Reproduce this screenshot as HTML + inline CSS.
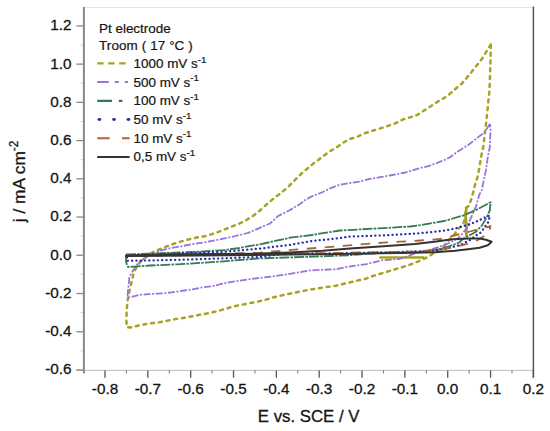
<!DOCTYPE html>
<html><head><meta charset="utf-8"><style>
html,body{margin:0;padding:0;background:#fff;}
svg{display:block;}
text{font-family:"Liberation Sans", sans-serif;fill:#151515;stroke:#151515;stroke-width:0.3px;}
.t15{font-size:15.3px;}
.t16{font-size:16.8px;}
.t12{font-size:12.4px;stroke-width:0.2px;}
</style></head><body>
<svg width="550" height="431" viewBox="0 0 550 431">
<line x1="84" y1="7.5" x2="533.4" y2="7.5" stroke="#e4e4e4" stroke-width="1"/>
<line x1="76" y1="370.4" x2="533.4" y2="370.4" stroke="#bdbdbd" stroke-width="1"/>
<line x1="533.4" y1="6.4" x2="533.4" y2="377.6" stroke="#555" stroke-width="1.5"/>
<line x1="83.9" y1="7" x2="83.9" y2="373.6" stroke="#888" stroke-width="2"/>
<line x1="76.4" y1="25.90" x2="83" y2="25.90" stroke="#888" stroke-width="1.3"/>
<text x="71.6" y="30.30" text-anchor="end" class="t15">1.2</text>
<line x1="76.4" y1="64.13" x2="83" y2="64.13" stroke="#888" stroke-width="1.3"/>
<text x="71.6" y="68.53" text-anchor="end" class="t15">1.0</text>
<line x1="76.4" y1="102.36" x2="83" y2="102.36" stroke="#888" stroke-width="1.3"/>
<text x="71.6" y="106.76" text-anchor="end" class="t15">0.8</text>
<line x1="76.4" y1="140.59" x2="83" y2="140.59" stroke="#888" stroke-width="1.3"/>
<text x="71.6" y="144.99" text-anchor="end" class="t15">0.6</text>
<line x1="76.4" y1="178.82" x2="83" y2="178.82" stroke="#888" stroke-width="1.3"/>
<text x="71.6" y="183.22" text-anchor="end" class="t15">0.4</text>
<line x1="76.4" y1="217.05" x2="83" y2="217.05" stroke="#888" stroke-width="1.3"/>
<text x="71.6" y="221.45" text-anchor="end" class="t15">0.2</text>
<line x1="76.4" y1="255.28" x2="83" y2="255.28" stroke="#888" stroke-width="1.3"/>
<text x="71.6" y="259.68" text-anchor="end" class="t15">0.0</text>
<line x1="76.4" y1="293.51" x2="83" y2="293.51" stroke="#888" stroke-width="1.3"/>
<text x="71.6" y="297.91" text-anchor="end" class="t15">-0.2</text>
<line x1="76.4" y1="331.74" x2="83" y2="331.74" stroke="#888" stroke-width="1.3"/>
<text x="71.6" y="336.14" text-anchor="end" class="t15">-0.4</text>
<line x1="76.4" y1="369.97" x2="83" y2="369.97" stroke="#888" stroke-width="1.3"/>
<text x="71.6" y="374.37" text-anchor="end" class="t15">-0.6</text>
<line x1="80.5" y1="45.01" x2="83" y2="45.01" stroke="#cfcfcf" stroke-width="1"/>
<line x1="80.5" y1="83.24" x2="83" y2="83.24" stroke="#cfcfcf" stroke-width="1"/>
<line x1="80.5" y1="121.47" x2="83" y2="121.47" stroke="#cfcfcf" stroke-width="1"/>
<line x1="80.5" y1="159.71" x2="83" y2="159.71" stroke="#cfcfcf" stroke-width="1"/>
<line x1="80.5" y1="197.94" x2="83" y2="197.94" stroke="#cfcfcf" stroke-width="1"/>
<line x1="80.5" y1="236.16" x2="83" y2="236.16" stroke="#cfcfcf" stroke-width="1"/>
<line x1="80.5" y1="274.39" x2="83" y2="274.39" stroke="#cfcfcf" stroke-width="1"/>
<line x1="80.5" y1="312.62" x2="83" y2="312.62" stroke="#cfcfcf" stroke-width="1"/>
<line x1="80.5" y1="350.85" x2="83" y2="350.85" stroke="#cfcfcf" stroke-width="1"/>
<line x1="105.00" y1="370.4" x2="105.00" y2="377.7" stroke="#555" stroke-width="1.3"/>
<text x="105.00" y="394" text-anchor="middle" class="t15">-0.8</text>
<line x1="147.84" y1="370.4" x2="147.84" y2="377.7" stroke="#555" stroke-width="1.3"/>
<text x="147.84" y="394" text-anchor="middle" class="t15">-0.7</text>
<line x1="190.68" y1="370.4" x2="190.68" y2="377.7" stroke="#555" stroke-width="1.3"/>
<text x="190.68" y="394" text-anchor="middle" class="t15">-0.6</text>
<line x1="233.52" y1="370.4" x2="233.52" y2="377.7" stroke="#555" stroke-width="1.3"/>
<text x="233.52" y="394" text-anchor="middle" class="t15">-0.5</text>
<line x1="276.36" y1="370.4" x2="276.36" y2="377.7" stroke="#555" stroke-width="1.3"/>
<text x="276.36" y="394" text-anchor="middle" class="t15">-0.4</text>
<line x1="319.20" y1="370.4" x2="319.20" y2="377.7" stroke="#555" stroke-width="1.3"/>
<text x="319.20" y="394" text-anchor="middle" class="t15">-0.3</text>
<line x1="362.04" y1="370.4" x2="362.04" y2="377.7" stroke="#555" stroke-width="1.3"/>
<text x="362.04" y="394" text-anchor="middle" class="t15">-0.2</text>
<line x1="404.88" y1="370.4" x2="404.88" y2="377.7" stroke="#555" stroke-width="1.3"/>
<text x="404.88" y="394" text-anchor="middle" class="t15">-0.1</text>
<line x1="447.72" y1="370.4" x2="447.72" y2="377.7" stroke="#555" stroke-width="1.3"/>
<text x="447.72" y="394" text-anchor="middle" class="t15">0.0</text>
<line x1="490.56" y1="370.4" x2="490.56" y2="377.7" stroke="#555" stroke-width="1.3"/>
<text x="490.56" y="394" text-anchor="middle" class="t15">0.1</text>
<line x1="533.40" y1="370.4" x2="533.40" y2="377.7" stroke="#555" stroke-width="1.3"/>
<text x="533.40" y="394" text-anchor="middle" class="t15">0.2</text>
<line x1="126.42" y1="370.4" x2="126.42" y2="373.6" stroke="#777" stroke-width="1"/>
<line x1="169.26" y1="370.4" x2="169.26" y2="373.6" stroke="#777" stroke-width="1"/>
<line x1="212.10" y1="370.4" x2="212.10" y2="373.6" stroke="#777" stroke-width="1"/>
<line x1="254.94" y1="370.4" x2="254.94" y2="373.6" stroke="#777" stroke-width="1"/>
<line x1="297.78" y1="370.4" x2="297.78" y2="373.6" stroke="#777" stroke-width="1"/>
<line x1="340.62" y1="370.4" x2="340.62" y2="373.6" stroke="#777" stroke-width="1"/>
<line x1="383.46" y1="370.4" x2="383.46" y2="373.6" stroke="#777" stroke-width="1"/>
<line x1="426.30" y1="370.4" x2="426.30" y2="373.6" stroke="#777" stroke-width="1"/>
<line x1="469.14" y1="370.4" x2="469.14" y2="373.6" stroke="#777" stroke-width="1"/>
<line x1="511.98" y1="370.4" x2="511.98" y2="373.6" stroke="#777" stroke-width="1"/>
<text x="257.8" y="422.4" class="t16">E vs. SCE / V</text>
<text transform="translate(25.2 222.2) rotate(-90)" class="t16" style="font-size:17.3px">j / mA cm<tspan dy="-7.5" font-size="12">-2</tspan></text>
<polyline points="490.8,44.5 481.8,59.1 470.2,73.6 462.0,83.5 455.6,88.7 446.9,96.4 439.3,100.7 431.6,105.7 424.0,110.5 417.5,114.9 410.9,117.1 403.3,119.3 394.5,123.6 386.9,126.3 378.2,129.1 370.5,131.3 364.0,133.5 356.4,137.2 349.8,138.9 342.5,143.1 335.9,147.9 329.0,151.8 321.2,157.7 313.3,163.6 307.4,168.6 301.5,173.5 294.6,180.4 287.7,187.3 280.8,193.2 272.9,199.1 266.0,205.0 258.4,211.8 252.5,216.2 246.0,220.3 239.5,223.5 232.9,226.1 224.9,229.3 218.4,231.9 211.8,234.1 204.5,236.3 198.0,237.3 191.5,238.7 182.2,241.1 175.0,243.3 167.2,246.2 161.4,248.6 155.6,250.9 149.8,253.8 145.2,257.3 140.5,261.9 137.0,266.0 133.7,273.0 131.1,284.3 129.4,291.3 127.7,300.0 126.8,308.7 126.3,319.1 126.8,327.0 130.0,327.6 139.1,325.5 148.2,323.6 157.3,322.7 166.4,320.9 175.5,319.1 184.5,317.8 193.6,316.0 200.8,314.7 208.1,313.3 214.6,311.8 221.2,310.1 229.2,307.7 236.5,305.7 244.5,304.3 251.7,302.8 259.0,301.3 266.3,299.5 273.5,297.3 285.0,294.6 310.4,289.5 335.9,285.7 357.3,280.6 364.5,279.2 371.8,276.3 379.1,274.1 386.4,271.9 393.6,269.7 400.9,267.5 408.2,265.4 415.5,262.5 422.7,259.6 430.0,255.6 437.2,250.7 443.4,246.6 448.5,240.4 453.6,235.3 458.7,228.2 462.8,225.1 465.2,218.0 466.0,207.5 469.0,206.0 472.0,197.0 475.0,185.0 478.1,175.0 481.2,156.4 483.3,146.4 484.8,134.0 487.0,115.0 489.5,90.0 490.5,60.0 490.8,44.5" fill="none" stroke="#a6a322" stroke-width="2.5" stroke-dasharray="3 4.8" stroke-linecap="round" stroke-linejoin="round"/>
<polyline points="466.5,207.5 465.4,215.0 466.5,226.0 466.3,236.5" fill="none" stroke="#a6a322" stroke-width="2.8" stroke-linecap="butt" stroke-linejoin="round"/>
<polyline points="379.3,257.4 424.5,257.4" fill="none" stroke="#a6a322" stroke-width="2.5" stroke-linecap="butt" stroke-linejoin="round"/>
<polyline points="489.8,123.9 484.6,132.3 477.2,137.9 467.9,145.3 458.6,150.9 450.0,157.2 446.2,159.1 437.3,162.9 428.4,166.1 418.2,168.6 405.5,172.5 392.7,175.0 380.2,177.2 369.8,178.9 359.3,181.6 348.9,183.1 338.5,185.2 330.1,188.3 321.8,192.5 311.3,196.6 305.0,200.0 300.0,204.0 289.1,210.5 278.2,216.0 270.0,223.5 259.8,227.8 248.2,232.9 233.6,236.5 219.1,239.5 204.5,242.4 190.9,244.4 180.0,246.5 170.0,248.2 160.9,250.3 153.6,253.9 145.0,258.0 138.0,263.0 132.0,272.2 129.4,277.4 128.5,286.1 127.7,293.9 127.7,297.4 130.0,297.3 139.1,294.9 148.2,294.2 157.3,293.6 166.4,293.1 175.5,291.8 184.5,290.5 193.6,289.1 202.7,287.3 211.8,286.4 220.9,284.0 230.0,282.2 251.8,278.9 272.1,276.4 290.0,273.8 310.4,270.4 335.9,269.2 348.6,266.6 366.4,264.1 381.7,260.3 399.5,259.0 420.0,251.8 428.1,250.2 444.3,245.3 457.3,238.8 462.2,233.9 467.1,227.5 470.3,219.3 476.0,206.4 479.2,195.0 481.8,190.0 483.7,180.6 486.1,169.4 487.9,156.4 489.8,147.2 490.5,128.6 489.8,123.9" fill="none" stroke="#9a74da" stroke-width="1.8" stroke-dasharray="7 1.6 2 1.6" stroke-linecap="butt" stroke-linejoin="round"/>
<polyline points="126.0,254.5 150.0,253.6 180.0,252.5 200.0,251.6 223.6,250.2 240.0,247.8 260.0,244.3 290.0,237.7 311.8,235.0 340.0,230.5 383.6,228.1 410.0,226.5 420.0,225.2 444.3,221.0 463.8,215.3 476.8,209.6 490.6,202.3 489.8,210.4 486.5,217.7 481.7,225.8 475.2,232.3 470.6,234.7 463.2,238.8 459.1,242.5 450.0,246.0 440.0,249.0 420.0,252.2 380.0,253.0 350.0,255.2 322.7,256.3 290.0,257.4 260.0,258.4 223.6,261.3 180.0,264.2 150.0,265.5 128.0,267.0 126.0,262.0 126.0,254.5" fill="none" stroke="#347a52" stroke-width="1.8" stroke-dasharray="10 1.2 2.5 1.2" stroke-linecap="butt" stroke-linejoin="round"/>
<polyline points="127.0,256.0 146.0,255.5 180.0,253.3 223.6,251.8 260.0,248.6 290.0,244.8 311.8,241.0 333.6,238.8 350.0,236.6 383.6,235.4 417.0,233.5 442.0,231.0 455.0,228.5 462.0,226.5 471.0,224.0 474.7,222.0 478.8,220.7 482.0,218.7 489.8,215.5 488.6,221.6 484.5,227.3 481.2,232.2 477.1,234.7 470.0,240.0 460.0,245.0 445.0,249.0 432.0,251.0 415.0,251.5 380.0,252.5 340.0,253.4 281.8,254.1 260.0,256.9 223.6,258.4 180.0,259.8 146.0,260.6 127.0,260.8 127.0,256.0" fill="none" stroke="#2a2ab0" stroke-width="2.3" stroke-dasharray="0.1 4.2" stroke-linecap="round" stroke-linejoin="round"/>
<polyline points="127.0,255.2 200.0,254.5 260.0,252.6 300.9,249.2 322.7,247.5 342.3,245.9 383.6,242.6 420.0,240.5 440.0,239.0 452.5,236.0 470.0,231.5 485.0,227.5 490.5,226.0 489.8,229.1 487.3,234.0 476.0,241.2 465.0,244.5 450.0,248.0 420.0,251.5 300.0,253.5 200.0,255.0 127.0,256.0" fill="none" stroke="#a8643c" stroke-width="1.8" stroke-dasharray="9.5 8.5" stroke-linecap="butt" stroke-linejoin="round"/>
<polyline points="125.3,255.6 180.0,254.2 260.0,253.6 290.0,252.4 322.7,250.8 350.0,248.6 383.6,246.3 415.0,244.0 436.2,241.6 452.5,239.3 468.7,238.4 480.0,238.6 486.0,239.8 491.6,241.8 487.8,245.3 479.6,247.8 470.0,249.0 455.0,250.8 435.0,252.2 400.0,253.0 380.0,253.3 340.0,254.0 290.0,254.6 200.0,255.4 125.3,256.0" fill="none" stroke="#343434" stroke-width="2" stroke-linecap="butt" stroke-linejoin="round"/>
<text transform="translate(99 32.8) scale(1.085 1)" class="t12">Pt electrode</text>
<text transform="translate(99 49.6) scale(1.085 1)" class="t12" letter-spacing="0.1">Troom ( 17 °C )</text>
<text transform="translate(133.5 67.8) scale(1.085 1)" class="t12">1000 mV s<tspan dy="-5.3" font-size="9">-1</tspan></text>
<text transform="translate(133.5 86.5) scale(1.085 1)" class="t12">500 mV s<tspan dy="-5.3" font-size="9">-1</tspan></text>
<text transform="translate(133.5 105.2) scale(1.085 1)" class="t12">100 mV s<tspan dy="-5.3" font-size="9">-1</tspan></text>
<text transform="translate(133.5 123.9) scale(1.085 1)" class="t12">50 mV s<tspan dy="-5.3" font-size="9">-1</tspan></text>
<text transform="translate(133.5 142.6) scale(1.085 1)" class="t12">10 mV s<tspan dy="-5.3" font-size="9">-1</tspan></text>
<text transform="translate(133.5 161.3) scale(1.085 1)" class="t12">0,5 mV s<tspan dy="-5.3" font-size="9">-1</tspan></text>
<line x1="97.2" y1="63.4" x2="127" y2="63.4" stroke="#a6a322" stroke-width="2.4" stroke-dasharray="6.4 4.6"/>
<line x1="97.2" y1="82.1" x2="128.5" y2="82.1" stroke="#9a74da" stroke-width="2" stroke-dasharray="11.6 6 4 6 3.2"/>
<line x1="97.2" y1="100.8" x2="122.4" y2="100.8" stroke="#347a52" stroke-width="2.2" stroke-dasharray="14.8 6.8 3.6"/>
<ellipse cx="99.4" cy="119.5" rx="1.9" ry="1.4" fill="#2a2ab0"/>
<ellipse cx="114" cy="119.5" rx="1.9" ry="1.4" fill="#2a2ab0"/>
<ellipse cx="128.4" cy="119.5" rx="1.9" ry="1.4" fill="#2a2ab0"/>
<line x1="97.2" y1="138.2" x2="129.6" y2="138.2" stroke="#a8643c" stroke-width="2" stroke-dasharray="12.4 12.4 7.6"/>
<line x1="97.2" y1="156.9" x2="129.6" y2="156.9" stroke="#343434" stroke-width="2"/>
</svg>
</body></html>
